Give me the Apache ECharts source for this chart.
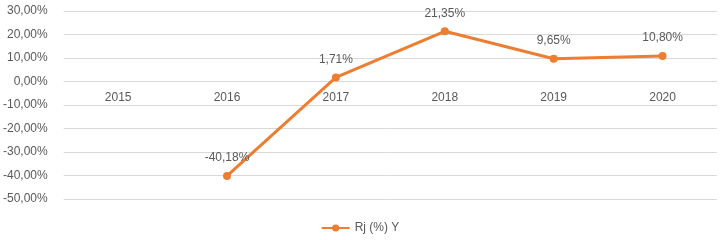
<!DOCTYPE html>
<html><head><meta charset="utf-8">
<script src="https://cdn.jsdelivr.net/npm/echarts@6/dist/echarts.min.js"></script>
<style>html,body{margin:0;padding:0;background:#fff}#c{width:720px;height:240px}</style>
</head><body><div id="c"></div>
<script>
const categories = ['2015','2016','2017','2018','2019','2020'];
const values = [null, -40.18, 1.71, 21.35, 9.65, 10.80];
const seriesName = 'Rj (%) Y';
const fmt = v => v.toFixed(2).replace('.', ',') + '%';
const chart = echarts.init(document.getElementById('c'));
chart.setOption({
  animation: false,
  textStyle: {fontFamily: 'Liberation Sans, Arial, sans-serif'},
  grid: {left: 62, right: 3, top: 11, bottom: 41},
  xAxis: {
    type: 'category', data: categories, boundaryGap: true,
    offset: -118,
    axisLine: {show: false, onZero: false},
    axisTick: {show: false},
    axisLabel: {color: '#595959', fontSize: 12, margin: 11}
  },
  yAxis: {
    type: 'value', min: -50, max: 30, interval: 10,
    axisLine: {show: false}, axisTick: {show: false},
    splitLine: {lineStyle: {color: '#d9d9d9', width: 1}},
    axisLabel: {color: '#595959', fontSize: 12, margin: 16, formatter: v => fmt(v)}
  },
  legend: {
    bottom: 1, left: 'center', itemWidth: 28, itemHeight: 9, itemGap: 5,
    textStyle: {color: '#595959', fontSize: 12},
    data: [seriesName]
  },
  series: [{
    name: seriesName, type: 'line', data: values,
    connectNulls: false,
    lineStyle: {color: '#ED7D31', width: 3},
    itemStyle: {color: '#ED7D31'},
    symbol: 'circle', symbolSize: 8,
    label: {show: true, position: 'top', distance: 8, color: '#595959', fontSize: 12,
      formatter: p => fmt(p.value)}
  }]
});
</script></body></html>
